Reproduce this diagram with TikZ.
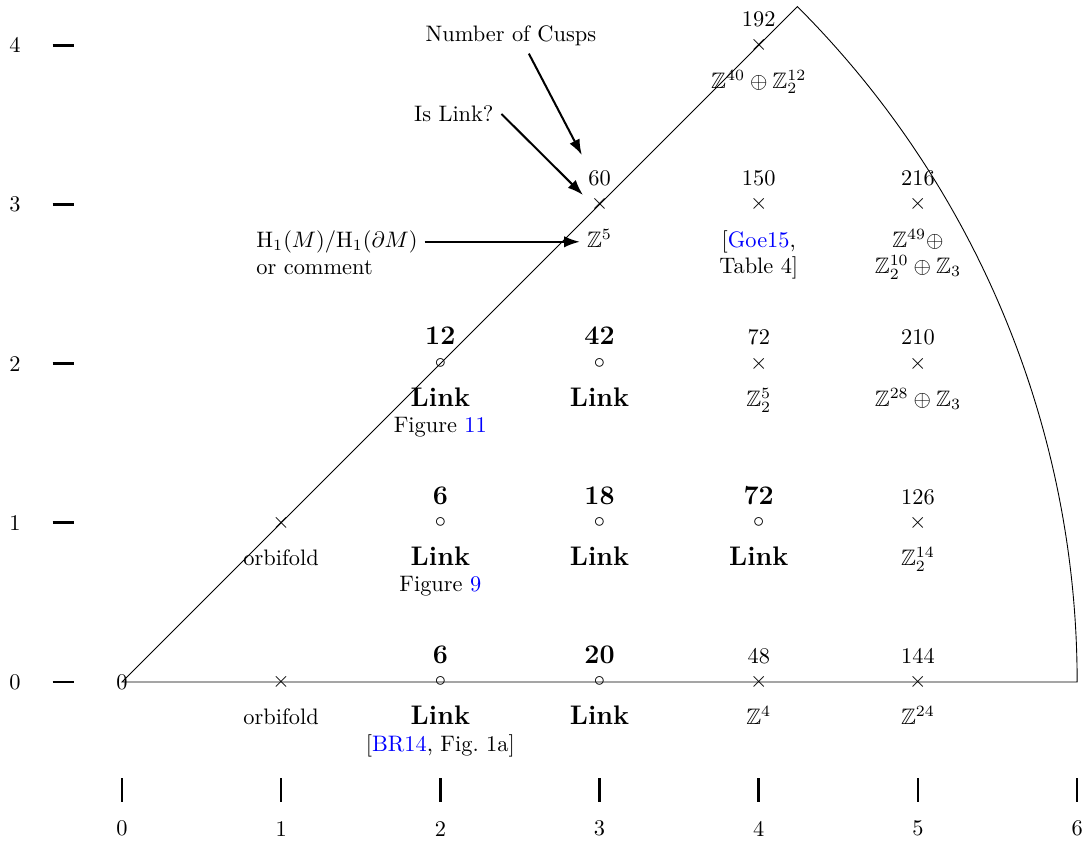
\documentclass[tikz,border=0pt]{standalone}
\usepackage{amsmath,amssymb}
\usepackage{tikz}
\usetikzlibrary{arrows.meta,positioning,calc}

\begin{document}
\begin{tikzpicture}[x=2.5cm,y=2.5cm,
  crossmk/.style={inner sep=0pt},
  ringmk/.style={inner sep=0pt},
  num/.style={anchor=base,inner sep=0pt},
  bnum/.style={num,font=\large\bfseries},
  txt/.style={anchor=base,inner sep=0pt},
  link/.style={txt,font=\large\bfseries},
  tick/.style={line width=1.2pt},
  callout/.style={line width=0.9pt,-{Latex[length=7pt,width=5pt]}}]
  \useasboundingbox (-0.766,-1.005) rectangle (6.062,4.284);
  % axes
  \foreach \i in {0,...,6} {
    \draw[tick] (\i,-0.604) -- (\i,-0.751);
    \node (xl\i) at (\i,-0.922) {\i};
  }
  \foreach \j in {0,...,4} {
    \draw[tick] (-0.436,\j) -- (-0.300,\j);
    \node (yl\j) at (-0.672,\j) {\j};
  }
  % region
  \draw (0,0) -- (45:6) arc[start angle=45,end angle=0,radius=6] -- cycle;
  \node[inner sep=0pt] (p00) at (0,0) {0};
  % row 0
  \node[crossmk] (p10) at (1,0) {$\times$};
  \node[txt] (t10) at (1,-0.27) {orbifold};
  \node[ringmk] (p20) at (2,0) {$\circ$};
  \node[bnum] (n20) at (2,0.117) {6};
  \node[link] (t20) at (2,-0.27) {Link};
  \node[txt] (s20) at (2,-0.434) {[\textcolor{blue}{BR14}, Fig.~1a]};
  \node[ringmk] (p30) at (3,0) {$\circ$};
  \node[bnum] (n30) at (3,0.117) {20};
  \node[link] (t30) at (3,-0.27) {Link};
  \node[crossmk] (p40) at (4,0) {$\times$};
  \node[num] (n40) at (4,0.117) {48};
  \node[txt] (t40) at (4,-0.27) {$\mathbb{Z}^4$};
  \node[crossmk] (p50) at (5,0) {$\times$};
  \node[num] (n50) at (5,0.117) {144};
  \node[txt] (t50) at (5,-0.27) {$\mathbb{Z}^{24}$};
  % row 1
  \node[crossmk] (p11) at (1,1) {$\times$};
  \node[txt] (t11) at (1,0.73) {orbifold};
  \node[ringmk] (p21) at (2,1) {$\circ$};
  \node[bnum] (n21) at (2,1.117) {6};
  \node[link] (t21) at (2,0.73) {Link};
  \node[txt] (s21) at (2,0.566) {Figure \textcolor{blue}{9}};
  \node[ringmk] (p31) at (3,1) {$\circ$};
  \node[bnum] (n31) at (3,1.117) {18};
  \node[link] (t31) at (3,0.73) {Link};
  \node[ringmk] (p41) at (4,1) {$\circ$};
  \node[bnum] (n41) at (4,1.117) {72};
  \node[link] (t41) at (4,0.73) {Link};
  \node[crossmk] (p51) at (5,1) {$\times$};
  \node[num] (n51) at (5,1.117) {126};
  \node[txt] (t51) at (5,0.73) {$\mathbb{Z}_2^{14}$};
  % row 2
  \node[ringmk] (p22) at (2,2) {$\circ$};
  \node[bnum] (n22) at (2,2.117) {12};
  \node[link] (t22) at (2,1.73) {Link};
  \node[txt] (s22) at (2,1.566) {Figure \textcolor{blue}{11}};
  \node[ringmk] (p32) at (3,2) {$\circ$};
  \node[bnum] (n32) at (3,2.117) {42};
  \node[link] (t32) at (3,1.73) {Link};
  \node[crossmk] (p42) at (4,2) {$\times$};
  \node[num] (n42) at (4,2.117) {72};
  \node[txt] (t42) at (4,1.73) {$\mathbb{Z}_2^5$};
  \node[crossmk] (p52) at (5,2) {$\times$};
  \node[num] (n52) at (5,2.117) {210};
  \node[txt] (t52) at (5,1.73) {$\mathbb{Z}^{28}\oplus\mathbb{Z}_3$};
  % row 3
  \node[crossmk] (p33) at (3,3) {$\times$};
  \node[num] (n33) at (3,3.117) {60};
  \node[txt] (t33) at (3,2.73) {$\mathbb{Z}^5$};
  \node[crossmk] (p43) at (4,3) {$\times$};
  \node[num] (n43) at (4,3.117) {150};
  \node[txt] (t43) at (4,2.73) {[\textcolor{blue}{Goe15},};
  \node[txt] (s43) at (4,2.566) {Table 4]};
  \node[crossmk] (p53) at (5,3) {$\times$};
  \node[num] (n53) at (5,3.117) {216};
  \node[txt] (t53) at (5,2.73) {$\mathbb{Z}^{49}\oplus$};
  \node[txt] (s53) at (5,2.566) {$\mathbb{Z}_2^{10}\oplus\mathbb{Z}_3$};
  % row 4
  \node[crossmk] (p44) at (4,4) {$\times$};
  \node[num] (n44) at (4,4.117) {192};
  \node[txt] (t44) at (4,3.73) {$\mathbb{Z}^{40}\oplus\mathbb{Z}_2^{12}$};
  % legend
  \node (cusps) at (2.443,4.060) {Number of Cusps};
  \node (islink) at (2.085,3.568) {Is Link?};
  \node[txt,anchor=base west] (hom) at (0.842,2.73) {$\mathrm{H}_1(M)/\mathrm{H}_1(\partial M)$};
  \node[txt,anchor=base west] (comment) at (0.842,2.561) {or comment};
  \coordinate (cuspstip) at ($(p33)+(-0.111,0.310)$);
  \coordinate (linktip) at ($(p33)+(-0.104,0.059)$);
  \draw[callout] (cusps.-45) -- (cuspstip);
  \draw[callout] (islink.east) -- (linktip);
  \draw[callout,shorten <=3pt,shorten >=3pt] (hom.east) -- (hom.east -| t33.west);
\end{tikzpicture}
\end{document}
